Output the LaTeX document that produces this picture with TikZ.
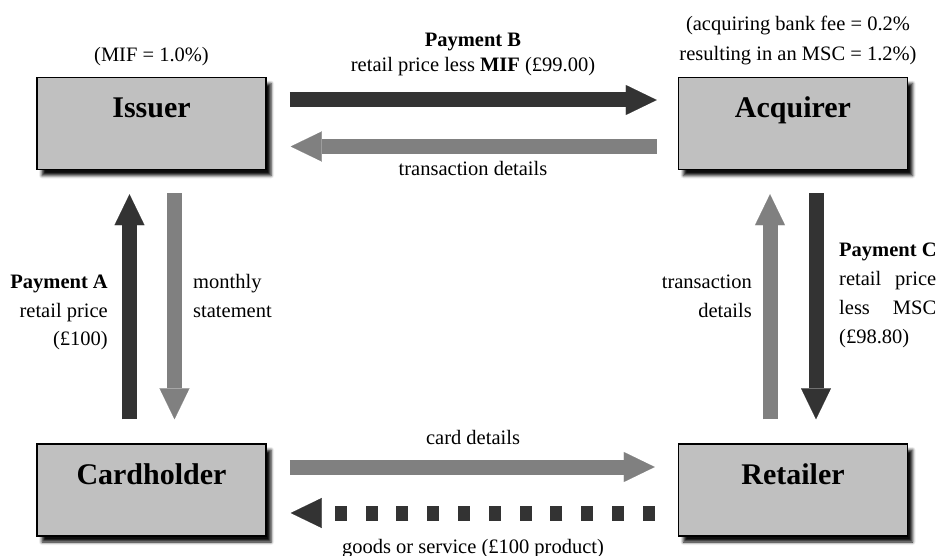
\documentclass[tikz,border=0pt]{standalone}
\usepackage{fontspec}
\setmainfont{Liberation Serif}
\usetikzlibrary{arrows.meta,shadows.blur}
\definecolor{boxgray}{HTML}{C0C0C0}
\definecolor{darkflow}{HTML}{333333}
\definecolor{lightflow}{HTML}{808080}

\begin{document}
\begin{tikzpicture}[x=1pt,y=-1pt,
  party/.style={draw=black, line width=1.5pt, fill=boxgray,
    minimum width=229pt, minimum height=92pt, inner sep=0pt,
    font=\fontsize{30}{36}\selectfont\bfseries,
    blur shadow={shadow xshift=5pt, shadow yshift=-6pt,
      shadow blur radius=3pt, shadow opacity=95}},
  flow/.style={line width=15pt, -{Triangle[length=31pt,width=30pt,line width=0.1pt]}},
  money/.style={flow, draw=darkflow},
  info/.style={flow, draw=lightflow},
  goods/.style={flow, draw=darkflow, dash pattern=on 12pt off 18.8pt},
  note/.style={inner sep=0pt, font=\fontsize{20.5}{28.6}\selectfont},
  notebf/.style={note, font=\fontsize{20.5}{28.6}\selectfont\bfseries}
]
\useasboundingbox (0,0) rectangle (943,556);

% the four parties
\node[party] (iss)  at (151.5,123.5) {\raisebox{5.5pt}[0pt][0pt]{Issuer}};
\node[party] (acq)  at (793,123.5)   {\raisebox{5.5pt}[0pt][0pt]{Acquirer}};
\node[party] (card) at (151.5,490)   {\raisebox{6pt}[0pt][0pt]{Cardholder}};
\node[party] (ret)  at (793,490)     {\raisebox{6pt}[0pt][0pt]{Retailer}};

% issuer <-> acquirer
\draw[money] ([xshift=23pt,yshift=23.5pt]iss.east) -- ([xshift=-21pt,yshift=23.5pt]acq.west);
\draw[info]  ([xshift=-21pt,yshift=-23pt]acq.west) -- ([xshift=24pt,yshift=-23pt]iss.east);

% cardholder <-> issuer
\draw[money] ([xshift=-22pt,yshift=24pt]card.north) -- ([xshift=-22pt,yshift=-24pt]iss.south);
\draw[info]  ([xshift=23pt,yshift=-23pt]iss.south) -- ([xshift=23pt,yshift=24pt]card.north);

% retailer <-> acquirer
\draw[info]  ([xshift=-23pt,yshift=24pt]ret.north) -- ([xshift=-23pt,yshift=-24pt]acq.south);
\draw[money] ([xshift=23pt,yshift=-23pt]acq.south) -- ([xshift=23pt,yshift=24pt]ret.north);

% cardholder <-> retailer
\draw[info]  ([xshift=23pt,yshift=23pt]card.east) -- ([xshift=-23pt,yshift=23pt]ret.west);
\draw[goods] ([xshift=-23pt,yshift=-23pt]ret.west) -- ([xshift=24pt,yshift=-23pt]card.east);

% labels
\node[note, anchor=base] (mif) at (151.5,61.5) {(MIF = 1.0\%)};
\node[note, anchor=base] (fee1) at (798,31) {(acquiring bank fee = 0.2\%};
\node[note, anchor=base] (fee2) at (798,61) {resulting in an MSC = 1.2\%)};

\node[notebf, anchor=base] (payb1) at (473,47) {Payment B};
\node[note, anchor=base] (payb2) at (473,72) {retail price less \textbf{MIF} (£99.00)};
\node[note, anchor=base] (td1) at (473,176) {transaction details};

\node[notebf, anchor=base east] (paya1) at (108,288) {Payment A};
\node[note, anchor=base east] (paya2) at (108,317) {retail price};
\node[note, anchor=base east] (paya3) at (108,345.5) {(£100)};

\node[note, anchor=base west] (ms1) at (193,288) {monthly};
\node[note, anchor=base west] (ms2) at (193,317) {statement};

\node[note, anchor=base east] (td2a) at (752,288) {transaction};
\node[note, anchor=base east] (td2b) at (752,317) {details};

\node[notebf, anchor=base west] (payc1) at (839,257) {Payment C};
\node[note, anchor=base west] (payc2) at (839,286) {\makebox[97pt][s]{retail price}};
\node[note, anchor=base west] (payc3) at (839,315) {\makebox[97pt][s]{less MSC}};
\node[note, anchor=base west] (payc4) at (839,343.5) {(£98.80)};

\node[note, anchor=base] (cd) at (473,444) {card details};
\node[note, anchor=base] (gs) at (473,553) {goods or service (£100 product)};
\end{tikzpicture}
\end{document}
